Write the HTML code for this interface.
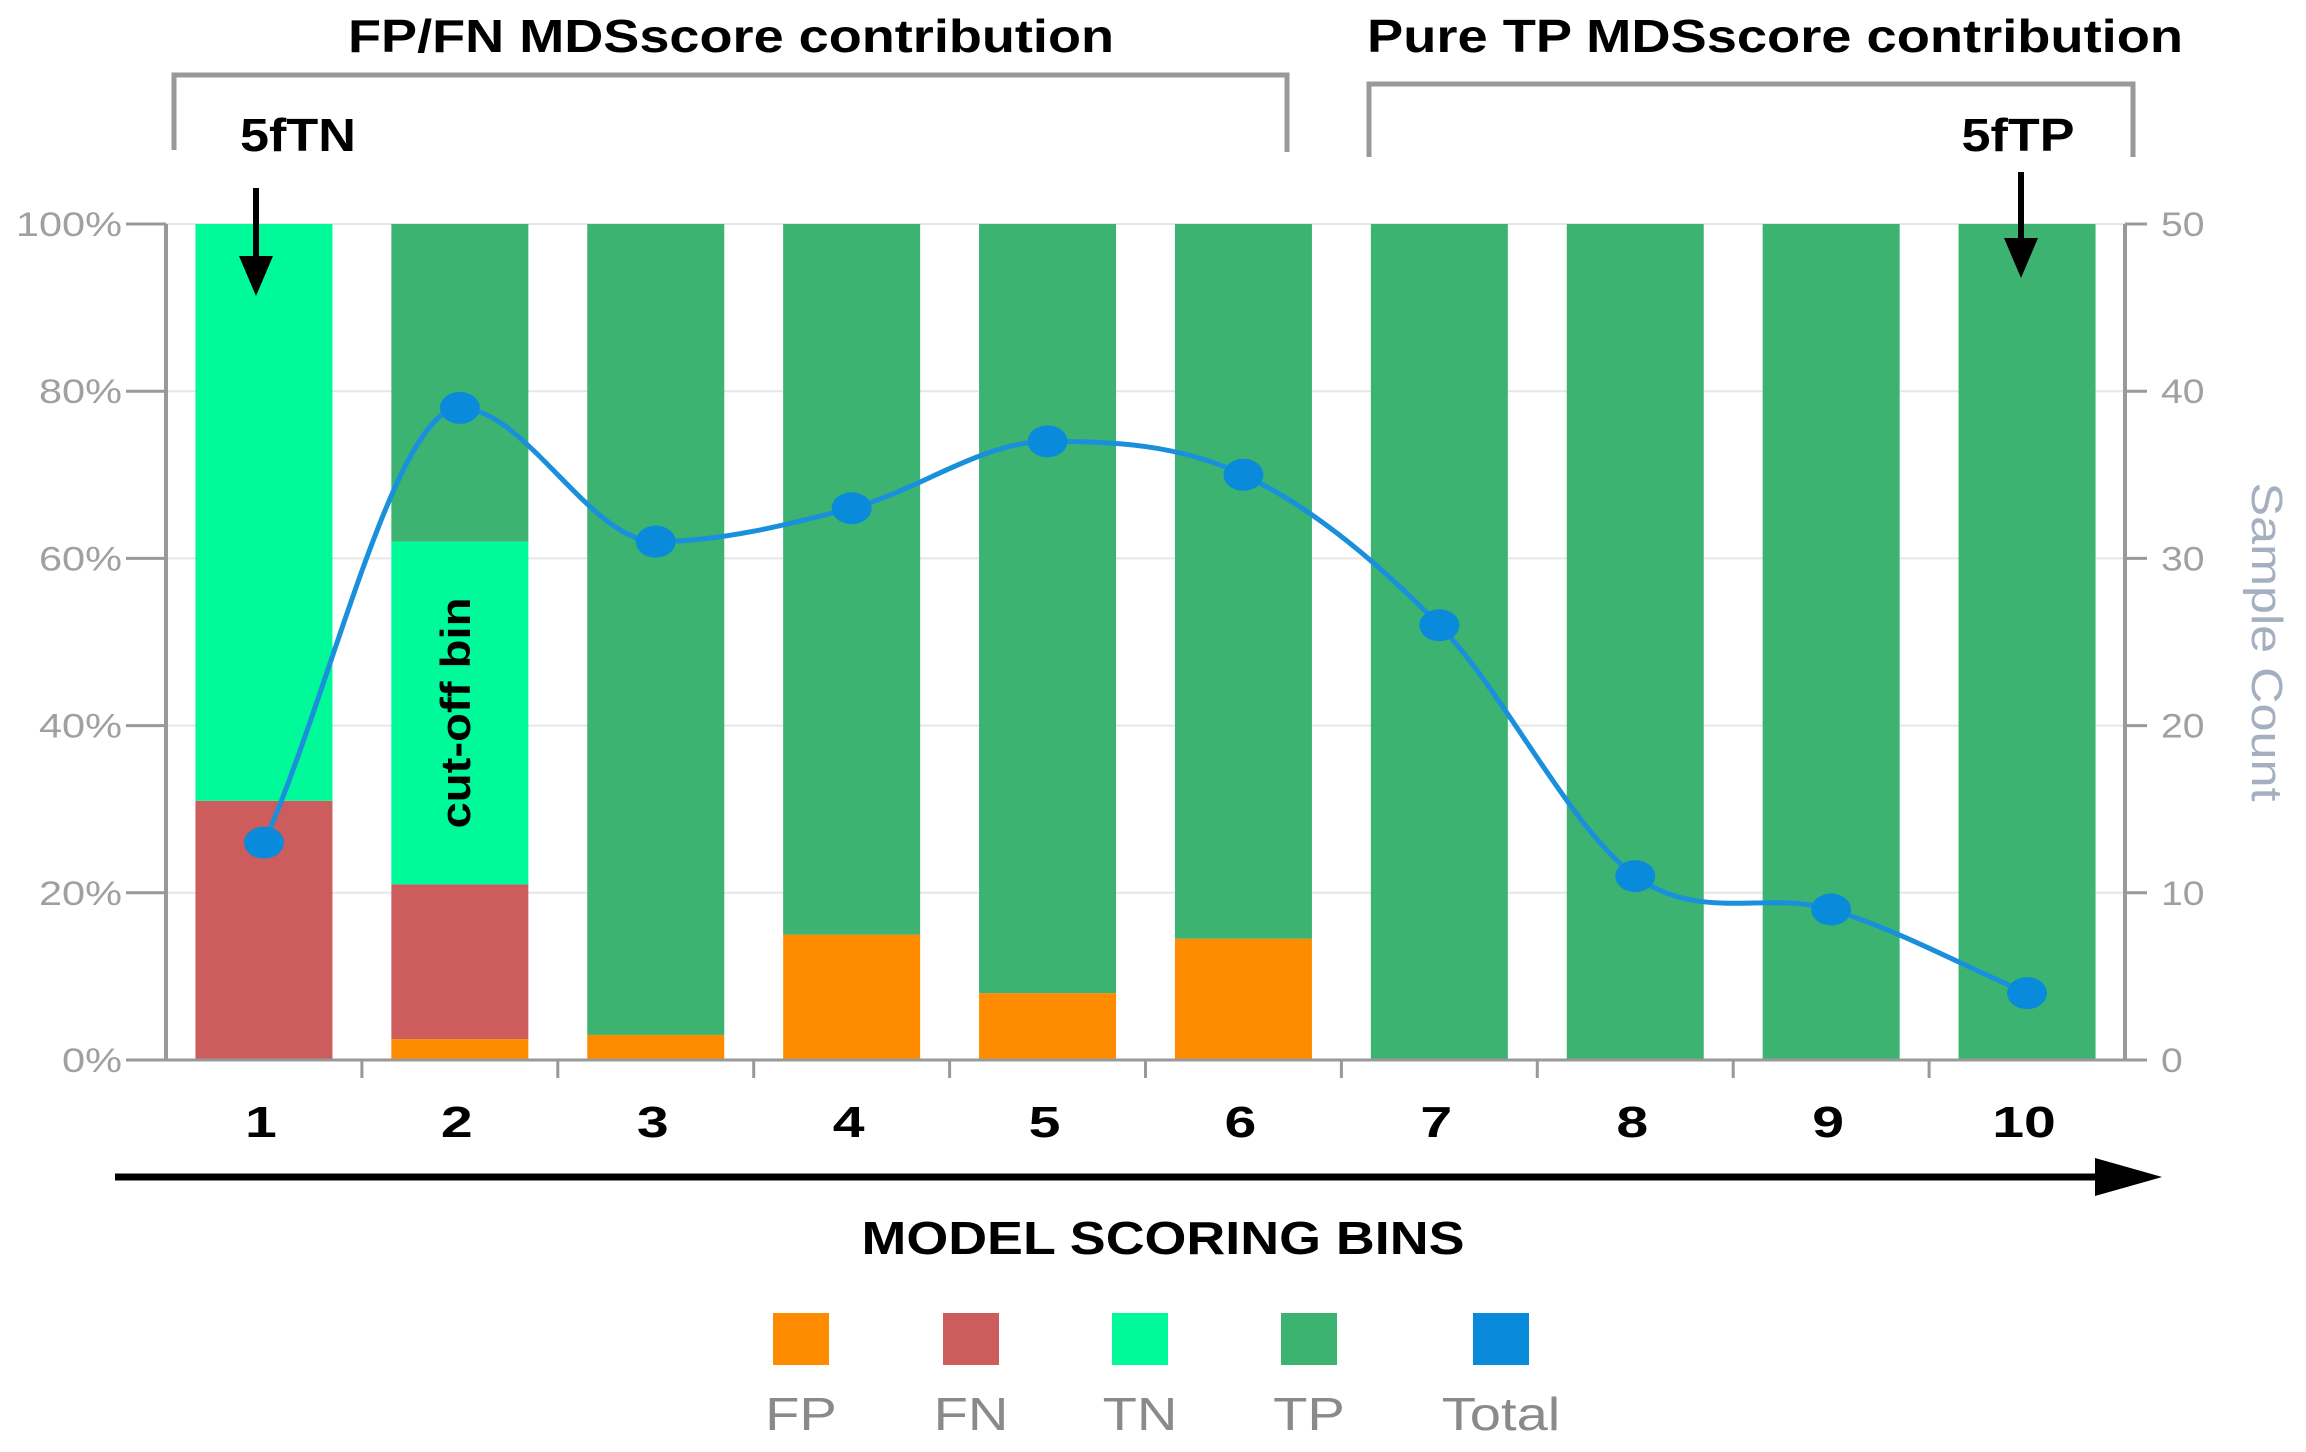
<!DOCTYPE html>
<html><head><meta charset="utf-8">
<style>
html,body{margin:0;padding:0;background:#fff;}
svg{display:block;font-family:"Liberation Sans",Arial,sans-serif;}
</style></head>
<body>
<svg id="chart" width="2306" height="1452" viewBox="0 0 2306 1452" xmlns="http://www.w3.org/2000/svg">
<g id="grid"></g>
<g id="bars"></g>
<g id="axes"></g>
<g id="line"></g>
<text transform="translate(470,713) rotate(-90)" text-anchor="middle" font-size="42" font-weight="bold" fill="#000" textLength="231" lengthAdjust="spacingAndGlyphs">cut-off bin</text>
<text x="731" y="52" text-anchor="middle" font-size="46" font-weight="bold" fill="#000" textLength="766" lengthAdjust="spacingAndGlyphs">FP/FN MDSscore contribution</text>
<path d="M174,150 L174,75 L1287,75 L1287,152" fill="none" stroke="#999" stroke-width="5"/>
<text x="1775" y="52" text-anchor="middle" font-size="46" font-weight="bold" fill="#000" textLength="816" lengthAdjust="spacingAndGlyphs">Pure TP MDSscore contribution</text>
<path d="M1369,157 L1369,84 L2133,84 L2133,157" fill="none" stroke="#999" stroke-width="5"/>
<text x="298" y="151" text-anchor="middle" font-size="46" font-weight="bold" fill="#000" textLength="116" lengthAdjust="spacingAndGlyphs">5fTN</text>
<path d="M256,188 L256,262" stroke="#000" stroke-width="6"/>
<path d="M239,256 L273,256 L256,296 Z" fill="#000"/>
<text x="2018" y="151" text-anchor="middle" font-size="46" font-weight="bold" fill="#000" textLength="113" lengthAdjust="spacingAndGlyphs">5fTP</text>
<path d="M2021,172 L2021,244" stroke="#000" stroke-width="6"/>
<path d="M2004,238 L2038,238 L2021,278 Z" fill="#000"/>
<path d="M115,1177 L2100,1177" stroke="#000" stroke-width="7"/>
<path d="M2095,1158 L2162,1177 L2095,1196 Z" fill="#000"/>
<text x="1163" y="1254" text-anchor="middle" font-size="46" font-weight="bold" fill="#000" textLength="603" lengthAdjust="spacingAndGlyphs">MODEL SCORING BINS</text>
<text transform="translate(2252,642) rotate(90)" text-anchor="middle" font-size="44" fill="#a4b0c0" textLength="319" lengthAdjust="spacingAndGlyphs">Sample Count</text>
<g id="legend"></g>
</svg>
<script>
const categories = ["1","2","3","4","5","6","7","8","9","10"];
const fpValues = [0, 2.5, 3, 15, 8, 14.5, 0, 0, 0, 0];
const fnValues = [31, 18.5, 0, 0, 0, 0, 0, 0, 0, 0];
const tnValues = [69, 41, 0, 0, 0, 0, 0, 0, 0, 0];
const tpValues = [0, 38, 97, 85, 92, 85.5, 100, 100, 100, 100];
const totalValues = [13, 39, 31, 33, 37, 35, 26, 11, 9, 4];
const leftTicks = ["0%","20%","40%","60%","80%","100%"];
const rightTicks = ["0","10","20","30","40","50"];
const legendNames = ["FP","FN","TN","TP","Total"];

const NS="http://www.w3.org/2000/svg";
const L=166,R=2125,Y0=1060,Y1=224;
const band=(R-L)/categories.length, bw=137;
const colors={FP:"#ff8c00",FN:"#cd5c5c",TN:"#00fa9a",TP:"#3cb371",Total:"#0a8adb"};
function yP(v){return Y0-(v/100)*(Y0-Y1);}
function yC(v){return Y0-(v/50)*(Y0-Y1);}
function xC(i){return L+band*(i+0.5);}
function mk(tag,attrs,parent){const e=document.createElementNS(NS,tag);for(const k in attrs)e.setAttribute(k,attrs[k]);parent.appendChild(e);return e;}
function stretch(el,f){const w=el.getComputedTextLength();el.setAttribute('textLength',w*f);el.setAttribute('lengthAdjust','spacingAndGlyphs');}
const grid=document.getElementById('grid'),bars=document.getElementById('bars'),axes=document.getElementById('axes'),lineG=document.getElementById('line'),leg=document.getElementById('legend');

leftTicks.forEach((t,i)=>{
  const v=i*20,y=yP(v);
  if(i>0){const g=mk('line',{x1:L,x2:R,y1:y,y2:y,stroke:'#e6e6e6','stroke-width':2},grid);
  
  }
  mk('line',{x1:L-40,x2:L,y1:y,y2:y,stroke:'#999','stroke-width':3},axes);
  const tx=mk('text',{x:L-44,y:y+12,'text-anchor':'end','font-size':34,fill:'#a0a0a0'},axes);
  tx.textContent=t;
  
  
  stretch(tx,1.22);
});
rightTicks.forEach((t,i)=>{
  const y=yC(i*10);
  mk('line',{x1:R,x2:R+22,y1:y,y2:y,stroke:'#999','stroke-width':3},axes);
  const tx=mk('text',{x:R+36,y:y+12,'text-anchor':'start','font-size':34,fill:'#a0a0a0'},axes);
  tx.textContent=t;
  
  
  stretch(tx,1.15);
});

categories.forEach((c,i)=>{
  let acc=0;
  [["FP",fpValues],["FN",fnValues],["TN",tnValues],["TP",tpValues]].forEach(([n,arr])=>{
    const v=arr[i]; if(v<=0) return;
    const r=mk('rect',{x:xC(i)-bw/2,y:yP(acc+v),width:bw,height:yP(acc)-yP(acc+v),fill:colors[n]},bars);
    
    
    acc+=v;
  });
  const t=mk('text',{x:xC(i)-3,y:1137,'text-anchor':'middle','font-size':44,'font-weight':'bold',fill:'#000'},axes);
  t.textContent=c;
  
  
  stretch(t,1.3);
  if(i>0) mk('line',{x1:L+band*i,x2:L+band*i,y1:Y0,y2:Y0+18,stroke:'#999','stroke-width':3},axes);
});
mk('line',{x1:L,x2:L,y1:Y1,y2:Y0,stroke:'#999','stroke-width':4},axes);
mk('line',{x1:R,x2:R,y1:Y1,y2:Y0,stroke:'#999','stroke-width':4},axes);
mk('line',{x1:L-40,x2:R,y1:Y0,y2:Y0,stroke:'#999','stroke-width':3},axes);

const pts=totalValues.map((v,i)=>[xC(i),yC(v)]);
const n=pts.length,d=[],m=[];
for(let i=0;i<n-1;i++)d.push((pts[i+1][1]-pts[i][1])/(pts[i+1][0]-pts[i][0]));
m[0]=d[0];m[n-1]=d[n-2];
for(let i=1;i<n-1;i++)m[i]=(d[i-1]*d[i]<=0)?0:(d[i-1]+d[i])/2;
let p=`M${pts[0][0]},${pts[0][1]}`;
for(let i=0;i<n-1;i++){const h=pts[i+1][0]-pts[i][0];
 p+=` C${pts[i][0]+h/3},${pts[i][1]+m[i]*h/3} ${pts[i+1][0]-h/3},${pts[i+1][1]-m[i+1]*h/3} ${pts[i+1][0]},${pts[i+1][1]}`;}
const path=mk('path',{d:p,fill:'none',stroke:'#1a90dc','stroke-width':5},lineG);


pts.forEach((q,i)=>{
  const e=mk('ellipse',{cx:q[0],cy:q[1],rx:20,ry:16,fill:colors.Total},lineG);
  
  
});

const lx=[801,971,1140,1309,1501];
legendNames.forEach((nm,i)=>{
  const r=mk('rect',{x:lx[i]-28,y:1313,width:56,height:52,fill:colors[nm]},leg);
  
  
  const t=mk('text',{x:lx[i],y:1430,'text-anchor':'middle','font-size':46,fill:'#8a8a8a'},leg);
  t.textContent=nm;
  
  
  stretch(t,1.22);
});
</script>
</body></html>
